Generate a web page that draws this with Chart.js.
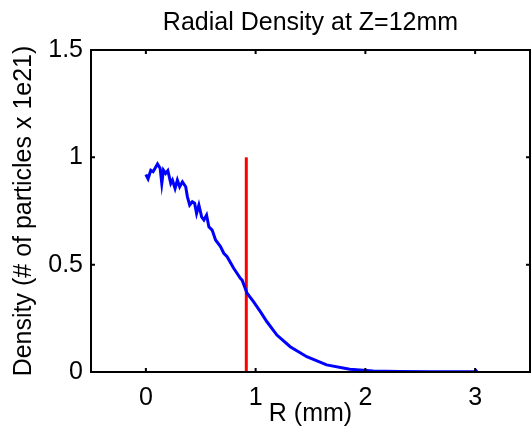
<!DOCTYPE html>
<html>
<head>
<meta charset="utf-8">
<script src="https://cdn.jsdelivr.net/npm/chart.js@4"></script>
<style>
  html, body { margin: 0; padding: 0; background: #fff; }
  #wrap { width: 531px; height: 436px; }
</style>
</head>
<body>
<div id="wrap"><canvas id="canvas" width="531" height="436"></canvas></div>
<script>
// values
const rValues = [0, 0.02, 0.045, 0.066, 0.106, 0.13, 0.145, 0.16, 0.18, 0.2, 0.227, 0.242, 0.266, 0.287, 0.308, 0.333, 0.363,
  0.378, 0.399, 0.423, 0.444, 0.462, 0.483, 0.508, 0.529, 0.553, 0.574, 0.604, 0.635, 0.68, 0.71, 0.74, 0.80, 0.861, 0.877,
  0.922, 0.982, 1.043, 1.103, 1.194, 1.315, 1.466, 1.647, 1.858, 2.07, 2.31, 2.6, 2.9, 3.0, 3.02];
const densityValues = [0.92, 0.90, 0.94, 0.933, 0.969, 0.949, 0.879, 0.94, 0.925, 0.938, 0.879, 0.894, 0.855, 0.894, 0.863, 0.886, 0.863,
  0.817, 0.778, 0.793, 0.786, 0.739, 0.778, 0.723, 0.708, 0.731, 0.677, 0.661, 0.615, 0.584, 0.553, 0.537, 0.483, 0.436, 0.428,
  0.367, 0.327, 0.281, 0.234, 0.172, 0.118, 0.071, 0.033, 0.013, 0.005, 0.002, 0.001, 0.001, 0.002, 0.01];
const cutoffR = 0.915;
const cutoffD = [0, 1];
const xTicks = [0, 1, 2, 3];
const yTicks = [0, 0.5, 1, 1.5];

const font = "'Liberation Sans', Arial, sans-serif";

// black frame with short inward ticks on all four sides
const boxPlugin = {
  id: 'box',
  afterDraw(chart) {
    const c = chart.ctx, a = chart.chartArea;
    const xs = chart.scales.x, ys = chart.scales.y;
    c.save();
    c.strokeStyle = '#000';
    c.lineWidth = 2;
    c.strokeRect(a.left, a.top, a.right - a.left, a.bottom - a.top);
    c.beginPath();
    xTicks.forEach(v => {
      const px = xs.getPixelForValue(v);
      c.moveTo(px, a.bottom); c.lineTo(px, a.bottom - 4);
      c.moveTo(px, a.top); c.lineTo(px, a.top + 4);
    });
    yTicks.forEach(v => {
      const py = ys.getPixelForValue(v);
      c.moveTo(a.left, py); c.lineTo(a.left + 4, py);
      c.moveTo(a.right, py); c.lineTo(a.right - 4, py);
    });
    c.stroke();
    c.restore();
  }
};

new Chart(document.getElementById('canvas'), {
  type: 'scatter',
  data: {
    datasets: [{
      data: rValues.map((r, i) => ({ x: r, y: densityValues[i] })),
      showLine: true,
      borderColor: '#0000ff',
      borderWidth: 3,
      pointRadius: 0,
      tension: 0
    }, {
      data: cutoffD.map(d => ({ x: cutoffR, y: d })),
      showLine: true,
      borderColor: '#ff0000',
      borderWidth: 3,
      pointRadius: 0
    }]
  },
  options: {
    responsive: false,
    animation: false,
    layout: { padding: { right: 1, left: 0, top: 0, bottom: 0 } },
    plugins: {
      legend: { display: false },
      tooltip: { enabled: false },
      title: {
        display: true,
        fullSize: false,
        text: 'Radial Density at Z=12mm',
        color: '#000',
        font: { family: font, size: 25, weight: 'normal' },
        padding: { top: 7.8, bottom: 12.2 }
      }
    },
    scales: {
      x: {
        type: 'linear',
        min: -0.5,
        max: 3.5,
        afterBuildTicks: s => { s.ticks = xTicks.map(v => ({ value: v })); },
        afterFit: s => { s.height = 64; },
        grid: { display: false, drawTicks: false },
        border: { display: false },
        ticks: { color: '#000', padding: 11, font: { family: font, size: 25 }, callback: v => String(v) },
        title: { display: true, text: 'R (mm)', color: '#000', padding: { top: 0, bottom: 6.5 }, font: { family: font, size: 25 } }
      },
      y: {
        type: 'linear',
        min: 0,
        max: 1.5,
        afterBuildTicks: s => { s.ticks = yTicks.map(v => ({ value: v })); },
        afterFit: s => { s.width = 91; },
        grid: { display: false, drawTicks: false },
        border: { display: false },
        ticks: { color: '#000', padding: 8, font: { family: font, size: 25 }, callback: v => String(v) },
        title: { display: true, text: 'Density (# of particles x 1e21)', color: '#000', padding: { top: 9, bottom: 0 }, font: { family: font, size: 25 } }
      }
    }
  },
  plugins: [boxPlugin]
});
</script>
</body>
</html>
